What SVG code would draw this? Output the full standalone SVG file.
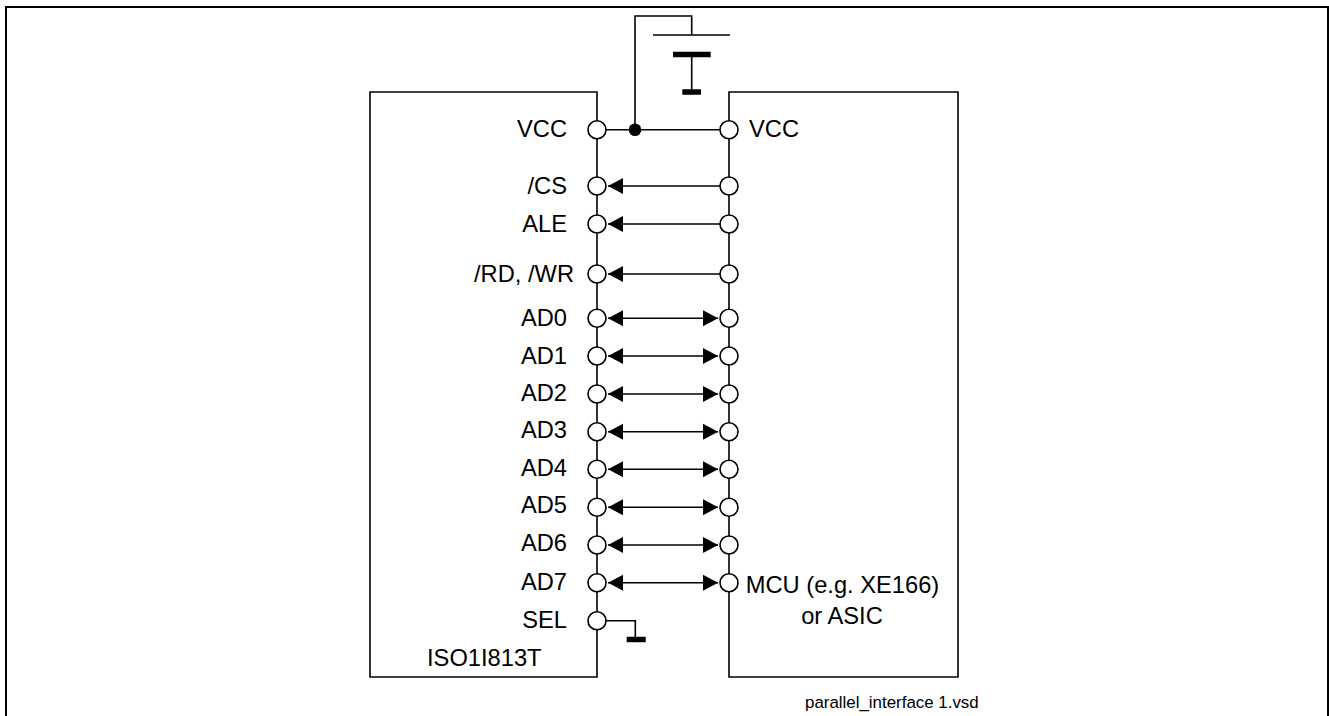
<svg xmlns="http://www.w3.org/2000/svg" width="1329" height="716" viewBox="0 0 1329 716">
<defs>
<marker id="ah" markerUnits="userSpaceOnUse" markerWidth="17" markerHeight="17" refX="15" refY="8.500" orient="auto-start-reverse"><path d="M0 0.500L15 8.500L0 16.500z" fill="#000"/></marker>
</defs>
<style>
.l{fill:none;stroke:#000;stroke-width:1.6}
.c{fill:#fff;stroke:#000;stroke-width:1.6}
text{font-family:"Liberation Sans",Arial,sans-serif;font-size:23.700px;fill:#000}
.e{text-anchor:end}
.m{text-anchor:middle}
</style>
<rect width="1329" height="716" fill="#fff"/>
<path id="frame" d="M6 716V7H1328V716" fill="none" stroke="#000" stroke-width="2"/>
<g id="iso">
<path class="l" d="M597 92H370V677H597Z"/>
<text class="e" x="567" y="137">VCC</text>
<text class="e" x="567" y="194">/CS</text>
<text class="e" x="567" y="232">ALE</text>
<text class="e" x="574" y="282">/RD, /WR</text>
<text class="e" x="567" y="326">AD0</text>
<text class="e" x="567" y="364">AD1</text>
<text class="e" x="567" y="401">AD2</text>
<text class="e" x="567" y="438">AD3</text>
<text class="e" x="567" y="476">AD4</text>
<text class="e" x="567" y="513">AD5</text>
<text class="e" x="567" y="551">AD6</text>
<text class="e" x="567" y="590">AD7</text>
<text class="e" x="567" y="628">SEL</text>
<text x="427" y="666">ISO1I813T</text>
</g>
<g id="mcu">
<path class="l" d="M729 92H958V677H729Z"/>
<text x="749" y="137">VCC</text>
<text class="m" x="842.500" y="593">MCU (e.g. XE166)</text>
<text class="m" x="842" y="624">or ASIC</text>
</g>
<g id="connectors">
<path class="l" d="M597 129.700H729M635 129.700V16H691.700V35M653 35H730M691.700 55V92M597 620.700H635.300V639"/>
<path d="M673 54.500H710.700M682.300 92H701M626.700 639.500H645.700" fill="none" stroke="#000" stroke-width="5.600"/>
<circle cx="635" cy="129.700" r="6.300"/>
<path class="l" marker-end="url(#ah)" d="M729 186H608"/>
<path class="l" marker-end="url(#ah)" d="M729 224H608"/>
<path class="l" marker-end="url(#ah)" d="M729 274H608"/>
<path class="l" marker-start="url(#ah)" marker-end="url(#ah)" d="M608 318.300H718"/>
<path class="l" marker-start="url(#ah)" marker-end="url(#ah)" d="M608 356H718"/>
<path class="l" marker-start="url(#ah)" marker-end="url(#ah)" d="M608 394H718"/>
<path class="l" marker-start="url(#ah)" marker-end="url(#ah)" d="M608 431.700H718"/>
<path class="l" marker-start="url(#ah)" marker-end="url(#ah)" d="M608 469.300H718"/>
<path class="l" marker-start="url(#ah)" marker-end="url(#ah)" d="M608 507.300H718"/>
<path class="l" marker-start="url(#ah)" marker-end="url(#ah)" d="M608 545H718"/>
<path class="l" marker-start="url(#ah)" marker-end="url(#ah)" d="M608 582.800H718"/>
</g>
<g id="pins-left">
<circle class="c" cx="597" cy="129.700" r="9"/><circle class="c" cx="597" cy="186" r="9"/><circle class="c" cx="597" cy="224" r="9"/><circle class="c" cx="597" cy="274" r="9"/><circle class="c" cx="597" cy="318.300" r="9"/><circle class="c" cx="597" cy="356" r="9"/><circle class="c" cx="597" cy="394" r="9"/><circle class="c" cx="597" cy="431.700" r="9"/><circle class="c" cx="597" cy="469.300" r="9"/><circle class="c" cx="597" cy="507.300" r="9"/><circle class="c" cx="597" cy="545" r="9"/><circle class="c" cx="597" cy="582.800" r="9"/><circle class="c" cx="597" cy="620.700" r="9"/>
</g>
<g id="pins-right">
<circle class="c" cx="729" cy="129.700" r="9"/><circle class="c" cx="729" cy="186" r="9"/><circle class="c" cx="729" cy="224" r="9"/><circle class="c" cx="729" cy="274" r="9"/><circle class="c" cx="729" cy="318.300" r="9"/><circle class="c" cx="729" cy="356" r="9"/><circle class="c" cx="729" cy="394" r="9"/><circle class="c" cx="729" cy="431.700" r="9"/><circle class="c" cx="729" cy="469.300" r="9"/><circle class="c" cx="729" cy="507.300" r="9"/><circle class="c" cx="729" cy="545" r="9"/><circle class="c" cx="729" cy="582.800" r="9"/>
</g>
<text id="filename" x="805" y="708" style="font-size:16.900px">parallel_interface 1.vsd</text>
</svg>
